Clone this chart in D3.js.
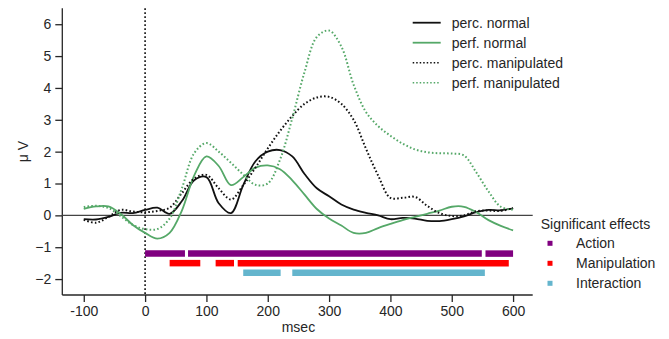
<!DOCTYPE html>
<html>
<head>
<meta charset="utf-8">
<script src="https://cdn.jsdelivr.net/npm/d3@7"></script>
<style>
  body { margin: 0; background: #fff; }
  text { font-family: "Liberation Sans", Arial, sans-serif; fill: #262626; }
</style>
</head>
<body>
<div id="chart"></div>
<script>
// sample times (msec)
const times = [-100, -80, -60, -40, -20, 0, 20, 40, 60, 80, 100, 120, 140, 160, 180, 200, 220, 240,
  260, 280, 300, 320, 340, 360, 380, 400, 420, 440, 460, 480, 500, 520, 540, 560, 580, 600]

const percNormal = [-0.12, -0.13, -0.05, 0.08, 0.07, 0.17, 0.24, 0.05, 0.45, 1.1, 1.2, 0.38, 0.07, 0.95,
  1.7, 2.0, 2.05, 1.85, 1.3, 0.85, 0.6, 0.34, 0.18, 0.08, 0.0, -0.12, -0.08, -0.1, -0.17, -0.18,
  -0.12, -0.03, 0.1, 0.17, 0.16, 0.22]
const perfNormal = [0.2, 0.28, 0.28, 0.05, -0.3, -0.55, -0.73, -0.55, 0.15, 1.25, 1.85, 1.55, 0.95, 1.2,
  1.5, 1.57, 1.45, 1.1, 0.65, 0.2, -0.1, -0.32, -0.55, -0.55, -0.4, -0.27, -0.15, -0.05, 0.05, 0.15,
  0.27, 0.27, 0.1, -0.15, -0.33, -0.47]
const percManip = [-0.14, -0.23, -0.05, 0.17, 0.12, 0.1, 0.14, 0.24, 0.7, 1.15, 1.27, 0.85, 0.5, 0.95,
  1.5, 2.1, 2.65, 3.12, 3.5, 3.7, 3.72, 3.5, 3.0, 2.1, 1.25, 0.55, 0.55, 0.58, 0.3, 0.07, -0.02, 0.0,
  0.13, 0.15, 0.14, 0.23]
const perfManip = [0.26, 0.3, 0.23, -0.02, -0.3, -0.43, -0.43, -0.1, 0.85, 1.95, 2.27, 2.0, 1.65, 1.28,
  0.96, 1.0, 1.75, 3.05, 4.5, 5.6, 5.8, 5.3, 4.1, 3.25, 2.8, 2.5, 2.25, 2.07, 1.98, 1.95, 1.94, 1.88,
  1.35, 0.75, 0.27, 0.18]

const seriesNames = ['perc. normal', 'perf. normal', 'perc. manipulated', 'perf. manipulated']

// significant effect windows [start, end] in msec
const actionSpans = [[0, 65], [70, 549], [555, 600]]
const manipSpans = [[40, 90], [115, 145], [151, 593]]
const interSpans = [[160, 221], [240, 554]]
const effectNames = ['Action', 'Manipulation', 'Interaction']
const effectLevels = [-1.2, -1.5, -1.8]

const xTicks = [-100, 0, 100, 200, 300, 400, 500, 600]
const yTicks = [-2, -1, 0, 1, 2, 3, 4, 5, 6]

const W = 669, H = 339
const m = { l: 62.3, r: 669 - 532.7, t: 8.3, b: 339 - 295 }
const fs = '14px'

const svg = d3.select('#chart').append('svg')
  .attr('width', W).attr('height', H)

const x = d3.scaleLinear().domain([-135, 632]).range([m.l, W - m.r])
const y = d3.scaleLinear().domain([-2.5, 6.5]).range([H - m.b, m.t])

const ink = '#262626'
const green = '#55a868'

// axes
const gx = svg.append('g').attr('transform', `translate(0,${H - m.b})`)
  .call(d3.axisBottom(x).tickValues(xTicks).tickSize(7).tickPadding(4).tickFormat(d => String(d)))
const gy = svg.append('g').attr('transform', `translate(${m.l},0)`)
  .call(d3.axisLeft(y).tickValues(yTicks).tickSize(7).tickPadding(4)
    .tickFormat(d => d < 0 ? '\u2212' + Math.abs(d) : String(d)))
;[gx, gy].forEach(g => {
  g.select('.domain').attr('stroke', ink).attr('stroke-width', 1.3)
  g.selectAll('.tick line').attr('stroke', ink).attr('stroke-width', 1.3)
  g.selectAll('.tick text').style('font-size', fs).style('font-family', '"Liberation Sans", Arial, sans-serif').attr('fill', ink)
})
// drop outer ticks of the domain path
gx.select('.domain').attr('d', `M${m.l},0H${W - m.r}`)
gy.select('.domain').attr('d', `M0,${m.t}V${H - m.b}`)

// zero line
svg.append('line')
  .attr('x1', m.l).attr('x2', W - m.r)
  .attr('y1', y(0)).attr('y2', y(0))
  .attr('stroke', '#444').attr('stroke-width', 1.1)

// stimulus onset
svg.append('line')
  .attr('x1', x(0)).attr('x2', x(0))
  .attr('y1', m.t).attr('y2', H - m.b)
  .attr('stroke', '#111').attr('stroke-width', 1.6)
  .attr('stroke-dasharray', '1.6,2.4')

// curves
const line = d3.line()
  .x((d, i) => x(times[i]))
  .y(d => y(d))
  .curve(d3.curveCatmullRom.alpha(0.5))

const styles = [
  { data: percNormal, color: '#111', dash: null },
  { data: perfNormal, color: green, dash: null },
  { data: percManip, color: '#111', dash: '1.6,2.2' },
  { data: perfManip, color: green, dash: '1.6,2.2' },
]

styles.forEach(s => {
  svg.append('path')
    .attr('d', line(s.data))
    .attr('fill', 'none')
    .attr('stroke', s.color)
    .attr('stroke-width', s.dash ? 2 : 1.8)
    .attr('stroke-dasharray', s.dash)
})

// significant effect bars
const effectColors = ['#800080', '#ff0000', '#64b5cd']
;[actionSpans, manipSpans, interSpans].forEach((spans, k) => {
  svg.append('g').selectAll('line')
    .data(spans)
    .enter()
    .append('line')
    .attr('x1', d => x(d[0])).attr('x2', d => x(d[1]))
    .attr('y1', y(effectLevels[k])).attr('y2', y(effectLevels[k]))
    .attr('stroke', effectColors[k])
    .attr('stroke-width', 6.5)
})

// line legend
const leg = svg.append('g').attr('transform', 'translate(412.7,22.7)')
styles.forEach((s, i) => {
  const row = leg.append('g').attr('transform', `translate(0,${i * 20})`)
  row.append('line')
    .attr('x1', 0).attr('x2', 28).attr('y1', 0).attr('y2', 0)
    .attr('stroke', s.color)
    .attr('stroke-width', s.dash ? 1.6 : 1.8)
    .attr('stroke-dasharray', s.dash ? '1.5,2' : null)
  row.append('text')
    .attr('x', 39).attr('y', 0).attr('dy', '0.35em')
    .style('font-size', fs)
    .text(seriesNames[i])
})

// significant effects legend
const leg2 = svg.append('g')
leg2.append('text')
  .attr('x', 540.7).attr('y', 224).attr('dy', '0.35em')
  .style('font-size', fs)
  .text('Significant effects')
effectNames.forEach((name, i) => {
  const yy = 243.3 + i * 20
  leg2.append('rect')
    .attr('x', 547.5).attr('y', yy - 2.5)
    .attr('width', 5).attr('height', 5)
    .attr('fill', effectColors[i])
  leg2.append('text')
    .attr('x', 576).attr('y', yy).attr('dy', '0.35em')
    .style('font-size', fs)
    .text(name)
})

// axis titles
svg.append('text')
  .attr('transform', `translate(23,${(m.t + H - m.b) / 2}) rotate(-90)`)
  .attr('text-anchor', 'middle').attr('dy', '0.35em')
  .style('font-size', fs)
  .text('μ V')
svg.append('text')
  .attr('x', x(250)).attr('y', 327).attr('dy', '0.35em')
  .attr('text-anchor', 'middle')
  .style('font-size', fs)
  .text('msec')
</script>
</body>
</html>
